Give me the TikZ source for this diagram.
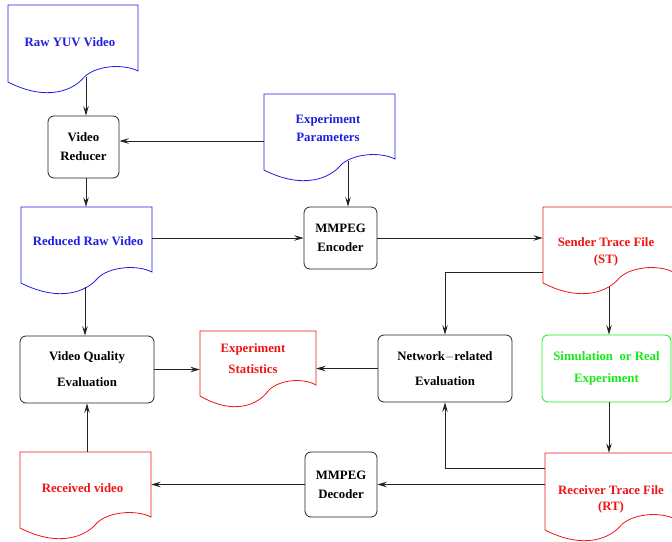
\documentclass[tikz,border=0pt]{standalone}
\usepackage{fontspec}
\setmainfont{Liberation Serif}
\usetikzlibrary{arrows.meta,calc,fit}
\definecolor{xblue}{RGB}{30,30,225}
\definecolor{xred}{RGB}{240,20,20}
\definecolor{xgreen}{RGB}{20,235,20}
\definecolor{xline}{RGB}{35,35,35}
\newcommand\docshape[6]{%
  \pgfmathsetmacro\dw{#5-#3}%
  \pgfmathsetmacro\yl{#6+11}%
  \draw[docline,draw=#2] (#3,\yl) -- (#3,#4) -- (#5,#4) -- (#5,#6)
    .. controls ({#3+0.88*\dw},{#6-8}) and ({#3+0.66*\dw},{\yl-16}) .. ({#3+0.58*\dw},{\yl-4})
    .. controls ({#3+0.5*\dw},{\yl+8}) and ({#3+0.3*\dw},{\yl+20}) .. (#3,\yl) -- cycle;
  \node[fit={(#3,#4) (#5,#6)},inner sep=0pt] (#1) {};
}
\begin{document}
\begin{tikzpicture}[x=1pt,y=-1pt,
  docline/.style={line width=0.8pt},
  lbl/.style={font=\fontsize{12.8}{16}\selectfont\bfseries, align=center, inner sep=0pt},
  box/.style={draw=xline, line width=0.8pt, rounded corners=6pt, lbl},
  arr/.style={draw=xline, line width=0.8pt, -{Stealth[length=9.5pt,width=5.5pt,inset=3.5pt]}}]
\useasboundingbox (0,0) rectangle (672,541);
\clip (0,0) rectangle (672,541);
% documents
\docshape{raw}{xblue}{8}{5}{138}{71}
\docshape{params}{xblue}{264}{94}{395}{159}
\docshape{reduced}{xblue}{21}{207}{152}{272}
\docshape{stats}{xred}{200}{331}{316}{385}
\docshape{sender}{xred}{543}{207}{673}{272}
\docshape{received}{xred}{20}{452}{151}{517}
\docshape{receiver}{xred}{545}{453}{675}{519}
\node[lbl,text=xblue] (raw-t) at (70,42) {Raw YUV Video};
\node[lbl,text=xblue] (params-t) at (328,128) {Experiment\\[2pt]Parameters};
\node[lbl,text=xblue] (reduced-t) at (88,241) {Reduced Raw Video};
\node[lbl,text=xred] (stats-t) at (253,358.5) {Experiment\\[5pt]Statistics};
\node[lbl,text=xred] (sender-t) at (606,251.5) {Sender Trace File\\[1pt](ST)};
\node[lbl,text=xred] (received-t) at (82.5,488) {Received video};
\node[lbl,text=xred] (receiver-t) at (611,499) {Receiver Trace File\\[0pt](RT)};
% boxes
\node[box,minimum width=71pt,minimum height=62pt] (reducer) at (83.5,147) {Video\\[3pt]Reducer};
\node[box,minimum width=73pt,minimum height=62pt] (encoder) at (340.5,238) {MMPEG\\[3pt]Encoder};
\node[box,minimum width=72pt,minimum height=65pt] (decoder) at (341,484.5) {MMPEG\\[3pt]Decoder};
\node[box,minimum width=134pt,minimum height=67pt] (vqe) at (87,369.5) {Video Quality\\[10pt]Evaluation};
\node[box,minimum width=134pt,minimum height=67pt] (network) at (445,368.5) {Network{\normalfont\bfseries$-$}related\\[9pt]Evaluation};
\node[box,draw=xgreen,text=xgreen,minimum width=129pt,minimum height=67pt] (sim) at (606.5,368.5) {Simulation\ \ or Real\\[6pt]Experiment};
% connector endpoints on the wavy edges
\coordinate (raw-o) at (86,77);
\coordinate (params-o) at (348,161);
\coordinate (sender-o) at (609,287);
\coordinate (reduced-o) at (85,287);
\coordinate (rp) at ($(reducer.east)+(0,-6)$);
\coordinate (recv-o) at ($(receiver.west)+(0,-18)$);
% connectors
\draw[arr] (raw-o) -- (raw-o |- reducer.north);
\draw[arr] (rp -| params.west) -- (rp);
\draw[arr] (params-o) -- (params-o |- encoder.north);
\draw[arr] (raw-o |- reducer.south) -- (raw-o |- reduced.north);
\draw[arr] (reduced.east |- encoder.west) -- (encoder.west);
\draw[arr] (encoder.east) -- (encoder.east -| sender.west);
\draw[arr] (sender.south west) -| (network.north);
\draw[arr] (sender-o) -- (sender-o |- sim.north);
\draw[arr] (sender-o |- sim.south) -- (sender-o |- receiver.north);
\draw[arr] (recv-o) -| (network.south);
\draw[arr] (decoder.east -| receiver.west) -- (decoder.east);
\draw[arr] (decoder.west) -- (decoder.west -| received.east);
\draw[arr] (received.north -| vqe.south) -- (vqe.south);
\draw[arr] (reduced-o) -- (reduced-o |- vqe.north);
\draw[arr] (vqe.east) -- (vqe.east -| stats.west);
\draw[arr] (network.west) -- (network.west -| stats.east);
\end{tikzpicture}
\end{document}
